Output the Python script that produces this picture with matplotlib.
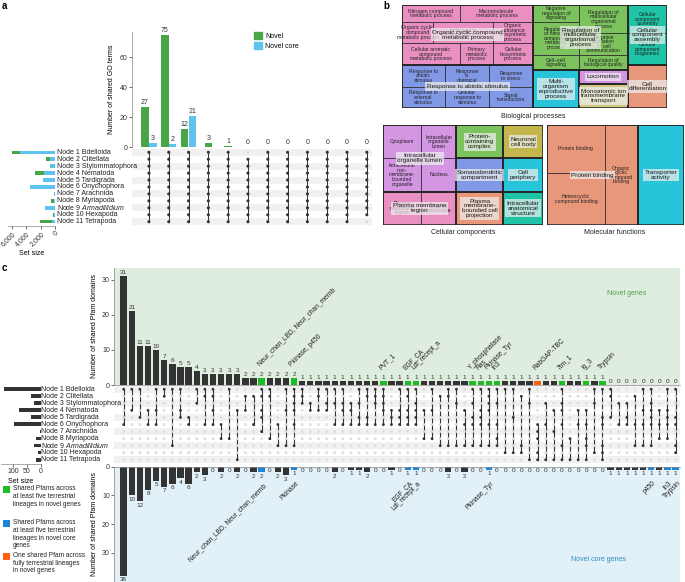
import matplotlib

matplotlib.use("Agg")
import matplotlib.pyplot as plt
from matplotlib.patches import Patch, Rectangle

plt.rcParams["font.family"] = ["Liberation Sans", "DejaVu Sans"]
plt.rcParams["mathtext.fontset"] = "custom"
plt.rcParams["mathtext.rm"] = "Liberation Sans"
plt.rcParams["mathtext.it"] = "Liberation Sans:italic"

W, H = 685, 582

NODES = [
    "Node 1 Bdelloida", "Node 2 Clitellata", "Node 3 Stylommatophora", "Node 4 Nematoda",
    "Node 5 Tardigrada", "Node 6 Onychophora", "Node 7 Arachnida", "Node 8 Myriapoda",
    r"Node 9 $\mathit{Armadillidium}$", "Node 10 Hexapoda", "Node 11 Tetrapoda",
]

# panel a: shared GO terms
A_NOVEL = [27, 75, 12, 3, 1, 0, 0, 0, 0, 0, 0, 0]
A_CORE = [3, 2, 21, 0, 0, 0, 0, 0, 0, 0, 0, 0]
A_SETS = [list(range(1, 12))] * 5 + [list(range(2, 12))] + [list(range(1, 12))] * 5 + [list(range(1, 11))]
A_SIZE_CORE = [4800, 700, 700, 1450, 1700, 3450, 200, 100, 1400, 100, 450]
A_SIZE_NOVEL = [1200, 550, 50, 1300, 0, 0, 0, 450, 0, 150, 1600]

# panel c: shared Pfam domains
C_NOVEL = [31, 21, 11, 11, 10, 7, 6, 5, 5, 4, 3, 3, 3, 3, 3, 2, 2, 2, 2, 2, 2, 2] + [1] * 38 + [0] * 9
C_CORE = [38, 10, 12, 8, 5, 7, 6, 4, 6, 2, 3, 0, 2, 0, 2, 0, 2, 2, 0, 2, 3, 1, 0, 0, 0, 0,
          2, 0, 1, 1, 2, 0, 0, 1, 0, 1, 1, 0, 0, 0, 2, 0, 2, 0, 0, 1] + [0] * 14 + [1] * 9
C_SETS = [
    [1, 6], [1, 4], [1, 5], [4, 6], [1, 4, 6], [1, 2], [1, 9], [1, 4, 5], [5, 6], [1, 3],
    [1, 2, 6], [1, 2, 4, 6], [6, 8], [1, 8], [4, 11], [2, 4], [2, 6], [1, 2, 4, 5, 7], [1, 2, 8], [6, 9],
    [1, 4, 9], [1, 2, 3, 4, 6, 9], [1, 2, 3], [3, 4], [1, 2, 4], [1, 3, 4], [1, 3, 6], [1, 3, 4, 6], [3, 4, 6], [1, 3, 5, 6],
    [1, 2, 5, 6], [1, 2, 3, 6], [1, 2, 3, 4, 6], [4, 5, 6], [1, 4, 5, 6], [1, 2, 4, 5, 6], [1, 3, 4, 5, 6], [4, 8], [1, 4, 8], [2, 9],
    [1, 2, 9], [1, 3, 9], [4, 6, 9], [1, 3, 5, 6, 9], [1, 4, 5, 6, 9], [1, 2, 3, 4, 6, 9], [1, 3, 6, 8, 9], [1, 10], [1, 5, 10], [2, 9, 10],
    [1, 3, 11], [6, 7, 8, 10, 11], [3, 6, 11], [4, 7, 11], [1, 3, 4, 6, 9, 11], [8, 11], [4, 6, 11], [4, 6, 8, 9, 11], [1, 3, 10], [1, 5, 6, 9, 10, 11],
    [1, 2, 5], [3, 6], [3, 5, 6], [2, 6, 9], [1, 4, 6, 9], [1, 3, 4, 5, 6, 9], [4, 6, 8], [1, 4, 5, 6, 8], [1, 5, 6, 9, 10],
]
C_SIZE = [133, 36, 24, 77, 36, 95, 4, 18, 24, 10, 18]
C_GREEN_COLS = [17, 21, 32, 35, 36, 43, 44, 45, 46, 54, 57, 59]
C_ORANGE_COLS = [51]
C_BLUE_COLS = [17, 21, 35, 36, 45, 65, 67, 68]
C_TOP_NAMES = {17: "Neur_chan_LBD, Neur_chan_memb", 21: "Pkinase, p450", 32: "PVT_1", 35: "EGF_CA",
               36: "Ldl_recept_a", 43: "Y_phosphatase", 44: "Ras", 45: "Pkinase_Tyr", 46: "fn3",
               51: "RabGAP-TBC", 54: "7tm_1", 57: "Ig_3", 59: "Trypsin"}
C_BOTTOM_NAMES = {17: "Neur_chan_LBD, Neur_chan_memb", 21: "Pkinase", 35: "EGF_CA", 36: "Ldl_recept_a",
                  45: "Pkinase_Tyr", 65: "p450", 67: "fn3", 68: "Trypsin"}

# panel b: treemaps (weights are relative sizes)
BP_COL_W = [395, 285, 117]
BP_PINK_H = [50, 65, 65]
BP_PINK = [
    [("Nitrogen compound\nmetabolic process", 175), ("Macromolecule\nmetabolic process", 220)],
    [("Organic cyclic\ncompound\nmetabolic process", 95), ("Heterocycle\nmetabolic process", 180),
     ("Organic\nsubstance\nbiosynthetic\nprocess", 120)],
    [("Cellular aromatic\ncompound\nmetabolic process", 175), ("Primary\nmetabolic\nprocess", 100),
     ("Cellular\nbiosynthetic\nprocess", 120)],
]
BP_BLUE_H = [67, 63]
BP_BLUE = [
    [("Response to\nabiotic\nstimulus", 130), ("Response\nto\nchemical", 133), ("Response\nto stress", 132)],
    [("Response to\nexternal\nstimulus", 130), ("Cellular\nresponse to\nstimulus", 133), ("Signal\ntransduction", 132)],
]
BP_GREEN_W = [137, 148]
BP_GREEN = [
    [("Negative\nregulation of\nsignaling", 50), ("Regulation\nof nitrogen\ncompound\nmetabolic\nprocess", 100),
     ("Cell\u2013cell\nsignaling", 45)],
    [("Regulation of\nmulticellular\norganismal\nprocess", 85), ("Negative\nregulation\nof cell\ncommunication", 65),
     ("Regulation of\nbiological quality", 45)],
]
BP_TEAL = [[("Cellular\ncomponent\nassembly", 1)], [("Cellular\ncomponent\nbiogenesis", 1)]]
BP_TEAL_H = [85, 95]

CC_COL_W = [220, 140, 120]
CC_VIOLET = [
    [("Cytoplasm", 115), ("Intracellular\norganelle\nlumen", 105)],
    [("Intracellular\nnon-\nmembrane-\nbounded\norganelle", 115), ("Nucleus", 105)],
]
CC_PINK = [[("Plasma\nmembrane\nregion", 115), ("Plasma\nmembrane", 105)]]
CC_MID = ["Protein-\ncontaining\ncomplex", "Somatodendritic\ncompartment", "Plasma\nmembrane-\nbounded cell\nprojection"]
CC_RIGHT = ["Neuronal\ncell body", "Cell\nperiphery", "Intracellular\nanatomical\nstructure"]

MF_COL_W = [275, 140]
MF_BIND = [[("Protein binding", 48), ("Heterocyclic\ncompound binding", 52)],
           [("Organic\ncyclic\ncompound\nbinding", 1)]]
MF_BIND_W = [175, 100]

PINK, BLUE, GREEN, TEAL = "#ea8fc1", "#8098e6", "#7cc35e", "#1fc3a5"
CYAN, SALMON, VIOLET, KHAKI, OLIVE = "#28c4da", "#e8977a", "#d495e3", "#d1c883", "#c3b64c"

fig = plt.figure(figsize=(W / 100, H / 100), dpi=100)


def px_axes(x0, y0, x1, y1):
    return fig.add_axes([x0 / W, 1 - y1 / H, (x1 - x0) / W, (y1 - y0) / H])


def fig_text(x, y, s, **kw):
    fig.text(x / W, 1 - y / H, s, **kw)


def style_ticks(ax):
    ax.tick_params(labelsize=5, length=2, width=0.5, pad=1, colors="#333333")
    for sp in ax.spines.values():
        sp.set_linewidth(0.5)
        sp.set_color("#888888")


def draw_matrix(ax, sets, nrow, ms, lw):
    for r in range(1, nrow + 1, 2):
        ax.axhspan(r - 0.5, r + 0.5, color="#f1f1f1", lw=0, zorder=0)
    xs, ys, cs = [], [], []
    for i, rows in enumerate(sets):
        for r in range(1, nrow + 1):
            xs.append(i)
            ys.append(r)
            cs.append("#333333" if r in rows else "#dddddd")
        ax.plot([i, i], [min(rows), max(rows)], color="#333333", lw=lw, zorder=2)
    ax.scatter(xs, ys, s=ms, c=cs, linewidths=0, zorder=3)
    ax.set_ylim(nrow + 0.6, 0.4)
    ax.axis("off")


# ---------------- panel a ----------------
GA, BA = "#48a548", "#5ec4ef"
ax = px_axes(131.7, 31.7, 372, 147)
for i, (n, c) in enumerate(zip(A_NOVEL, A_CORE)):
    pairs = [(v, col) for v, col in ((n, GA), (c, BA)) if v > 0]
    if not pairs:
        ax.text(i, 0.8, "0", ha="center", va="bottom", fontsize=5, color="#333333")
        continue
    offs = [0] if len(pairs) == 1 else [-0.2, 0.2]
    for (v, col), o in zip(pairs, offs):
        ax.bar(i + o, v, 0.38, color=col, lw=0)
        ax.text(i + o, v + 0.6, str(v), ha="center", va="bottom", fontsize=5, color="#333333", clip_on=False)
ax.set_xlim(-0.87, 11.26)
ax.set_ylim(0, 77)
ax.set_yticks([0, 20, 40, 60])
ax.set_xticks([])
for s in ("top", "right", "bottom"):
    ax.spines[s].set_visible(False)
style_ticks(ax)
ax.set_ylabel("Number of shared GO terms", fontsize=5, labelpad=3)
ax.legend(handles=[Patch(color=GA, label="Novel"), Patch(color=BA, label="Novel core")],
          loc="upper left", bbox_to_anchor=(248 / W, 1 - 26 / H), bbox_transform=fig.transFigure,
          frameon=False, fontsize=5, handlelength=1.1, handleheight=1.1, handletextpad=0.5, labelspacing=0.35)

axm = px_axes(131.7, 148.1, 372, 225.9)
draw_matrix(axm, A_SETS, 11, 5, 0.7)
axm.set_xlim(-0.87, 11.26)

axs = px_axes(8, 148.1, 55, 225.9)
rows = list(range(1, 12))
axs.barh(rows, A_SIZE_CORE, 0.5, color=BA, lw=0)
axs.barh(rows, A_SIZE_NOVEL, 0.5, left=A_SIZE_CORE, color=GA, lw=0)
axs.set_xlim(6483, 0)
axs.set_ylim(11.6, 0.4)
axs.set_yticks([])
axs.set_xticks([6000, 4000, 2000, 0])
axs.set_xticklabels(["6,000", "4,000", "2,000", "0"], rotation=45, ha="right", rotation_mode="anchor")
for s in ("top", "right", "left"):
    axs.spines[s].set_visible(False)
style_ticks(axs)
axs.set_xlabel("Set size", fontsize=5, labelpad=2)
for r, name in zip(rows, NODES):
    axs.annotate(name, (0, r), xytext=(1.5, 0), textcoords="offset points", ha="left", va="center",
                 fontsize=5, color="#222222", annotation_clip=False)


# ---------------- panel b ----------------
def split(rect, weights, horizontal):
    x, y, w, h = rect
    tot = float(sum(weights))
    out, pos = [], 0.0
    for wt in weights:
        f = wt / tot
        out.append((x + pos * w, y, f * w, h) if horizontal else (x, y + pos * h, w, f * h))
        pos += f
    return out


def draw_group(ax, rect, color, lines, line_w, by_rows, title, small=3.7):
    single = len(lines) == 1 and len(lines[0]) == 1
    for lrect, line in zip(split(rect, line_w, not by_rows), lines):
        cells = split(lrect, [wt for _, wt in line], by_rows)
        for (x, y, w, h), (lab, _) in zip(cells, line):
            ax.add_patch(Rectangle((x, y), w, h, fc=color, ec="#333333", lw=0.6))
            if not single:
                ax.text(x + w / 2, y + h / 2, lab, ha="center", va="center", fontsize=small,
                        color="#222222", linespacing=0.9)
    x, y, w, h = rect
    ax.add_patch(Rectangle((x, y), w, h, fill=False, ec="#222222", lw=1.1))
    ax.text(x + w / 2, y + h / 2, title, ha="center", va="center", fontsize=4.6, color="#1a1a1a",
            linespacing=0.95, bbox=dict(boxstyle="square,pad=0.25", fc="#eeeeee", ec="none", alpha=0.72))


def one(label):
    return [[(label, 1)]]


bx = px_axes(401.7, 5, 667, 108)
bx.set_xlim(0, 797)
bx.set_ylim(310, 0)
bx.axis("off")
colA, colB, colC = split((0, 0, 797, 310), BP_COL_W, True)
pink, blue = split(colA, [180, 130], False)
green, lower = split(colB, [195, 115], False)
cyan, right = split(lower, [137, 148], True)
loco, ion = split(right, [40, 70], False)
teal, cdiff = split(colC, [180, 130], False)
draw_group(bx, pink, PINK, BP_PINK, BP_PINK_H, True, "Organic cyclic compound\nmetabolic process")
draw_group(bx, blue, BLUE, BP_BLUE, BP_BLUE_H, True, "Response to abiotic stimulus")
draw_group(bx, green, GREEN, BP_GREEN, BP_GREEN_W, False, "Regulation of\nmulticellular\norganismal\nprocess")
draw_group(bx, cyan, CYAN, one(""), [1], True, "Multi-\norganism\nreproductive\nprocess")
draw_group(bx, loco, VIOLET, one(""), [1], True, "Locomotion")
draw_group(bx, ion, KHAKI, one(""), [1], True, "Monoatomic ion\ntransmembrane\ntransport")
draw_group(bx, teal, TEAL, BP_TEAL, BP_TEAL_H, True, "Cellular\ncomponent\nassembly")
draw_group(bx, cdiff, SALMON, one(""), [1], True, "Cell\ndifferentiation")
fig_text(533, 117, "Biological processes", ha="center", va="center", fontsize=5, color="#222222")

cx = px_axes(383, 125, 543, 225)
cx.set_xlim(0, 480)
cx.set_ylim(300, 0)
cx.axis("off")
cl, cm, cr = split((0, 0, 480, 300), CC_COL_W, True)
violet, cpink = split(cl, [200, 100], False)
draw_group(cx, violet, VIOLET, CC_VIOLET, [100, 100], True, "Intracellular\norganelle lumen")
draw_group(cx, cpink, PINK, CC_PINK, [1], True, "Plasma membrane\nregion")
for rect, lab, col in zip(split(cm, [1, 1, 1], False), CC_MID, [GREEN, BLUE, SALMON]):
    draw_group(cx, rect, col, one(""), [1], True, lab)
for rect, lab, col in zip(split(cr, [1, 1, 1], False), CC_RIGHT, [OLIVE, CYAN, TEAL]):
    draw_group(cx, rect, col, one(""), [1], True, lab)
fig_text(463, 232, "Cellular components", ha="center", va="center", fontsize=5, color="#222222")

mx = px_axes(547, 125, 684, 225)
mx.set_xlim(0, 415)
mx.set_ylim(300, 0)
mx.axis("off")
mbind, mtrans = split((0, 0, 415, 300), MF_COL_W, True)
draw_group(mx, mbind, SALMON, MF_BIND, MF_BIND_W, False, "Protein binding")
draw_group(mx, mtrans, CYAN, one(""), [1], True, "Transporter\nactivity")
fig_text(615, 232, "Molecular functions", ha="center", va="center", fontsize=5, color="#222222")

# ---------------- panel c ----------------
DARK, GC, OC, BC = "#333333", "#1fbb24", "#ff5f0f", "#1e85d6"
XL = (-1.19, 68.55)

axt = px_axes(114, 268, 680, 385)
axt.set_facecolor("#dfeddf")
for i, v in enumerate(C_NOVEL):
    col = GC if i in C_GREEN_COLS else OC if i in C_ORANGE_COLS else DARK
    if v > 0:
        axt.bar(i, v, 0.78, color=col, lw=0)
    axt.text(i, v + 0.3, str(v), ha="center", va="bottom", fontsize=4.6, color="#333333", clip_on=False)
    if i in C_TOP_NAMES:
        axt.annotate(C_TOP_NAMES[i], (i, v), xytext=(-0.5, 7.5), textcoords="offset points", rotation=45,
                     ha="left", va="bottom", rotation_mode="anchor", fontsize=4.8, color="#222222")
axt.set_xlim(*XL)
axt.set_ylim(0, 33.4)
axt.set_yticks([0, 10, 20, 30])
axt.set_xticks([])
for s in ("top", "right"):
    axt.spines[s].set_visible(False)
style_ticks(axt)
axt.set_ylabel("Number of shared Pfam domains", fontsize=5, labelpad=3)
axt.text(62, 26.2, "Novel genes", ha="center", va="center", fontsize=5, color="#47a047")

axc = px_axes(114, 385, 680, 464)
draw_matrix(axc, C_SETS, 11, 4, 0.8)
axc.set_xlim(*XL)

axb = px_axes(114, 466.7, 680, 582)
axb.set_facecolor("#e2f0f7")
for i, v in enumerate(C_CORE):
    col = BC if i in C_BLUE_COLS else DARK
    if v > 0:
        axb.bar(i, v, 0.78, color=col, lw=0)
    axb.text(i, v + 0.5, str(v), ha="center", va="top", fontsize=4.6, color="#333333", clip_on=False)
    if i in C_BOTTOM_NAMES:
        axb.annotate(C_BOTTOM_NAMES[i], (i, v), xytext=(1, -7.5), textcoords="offset points", rotation=45,
                     ha="right", va="top", rotation_mode="anchor", fontsize=4.8, color="#222222")
axb.set_xlim(*XL)
axb.set_ylim(40.2, 0)
axb.set_yticks([0, 10, 20, 30])
axb.set_xticks([])
for s in ("bottom", "right"):
    axb.spines[s].set_visible(False)
style_ticks(axb)
axb.set_ylabel("Number of shared Pfam domains", fontsize=5, labelpad=3)
axb.text(58.5, 32.4, "Novel core genes", ha="center", va="center", fontsize=5, color="#2a8cc4")

axsc = px_axes(0.5, 385, 40.7, 464)
axsc.barh(rows, C_SIZE, 0.55, color=DARK, lw=0)
axsc.set_xlim(145, 0)
axsc.set_ylim(11.63, 0.39)
axsc.set_yticks([])
axsc.set_xticks([100, 50, 0])
for s in ("top", "right", "left"):
    axsc.spines[s].set_visible(False)
style_ticks(axsc)
axsc.set_xlabel("Set size", fontsize=5, labelpad=2)
for r, name in zip(rows, NODES):
    axsc.annotate(name, (0, r), xytext=(0.5, 0), textcoords="offset points", ha="left", va="center",
                  fontsize=5, color="#222222", annotation_clip=False)

LEGEND_C = [
    (GC, 486, "Shared Pfams across\nat least five terrestrial\nlineages in novel genes"),
    (BC, 520, "Shared Pfams across\nat least five terrestrial\nlineages in novel core\ngenes"),
    (OC, 553, "One shared Pfam across\nfully terrestrial lineages\nin novel genes"),
]
for col, y, lab in LEGEND_C:
    fig.add_artist(Rectangle((3 / W, 1 - (y + 7) / H), 7 / W, 7 / H, transform=fig.transFigure, fc=col, ec="none"))
    fig_text(13, y - 1, lab, ha="left", va="top", fontsize=4.7, color="#222222", linespacing=1.15)

fig_text(2, 1, "a", ha="left", va="top", fontsize=7, fontweight="bold")
fig_text(383, 1, "b", ha="left", va="top", fontsize=7, fontweight="bold")
fig_text(2, 263, "c", ha="left", va="top", fontsize=7, fontweight="bold")

fig.savefig("out.png", dpi=100)
